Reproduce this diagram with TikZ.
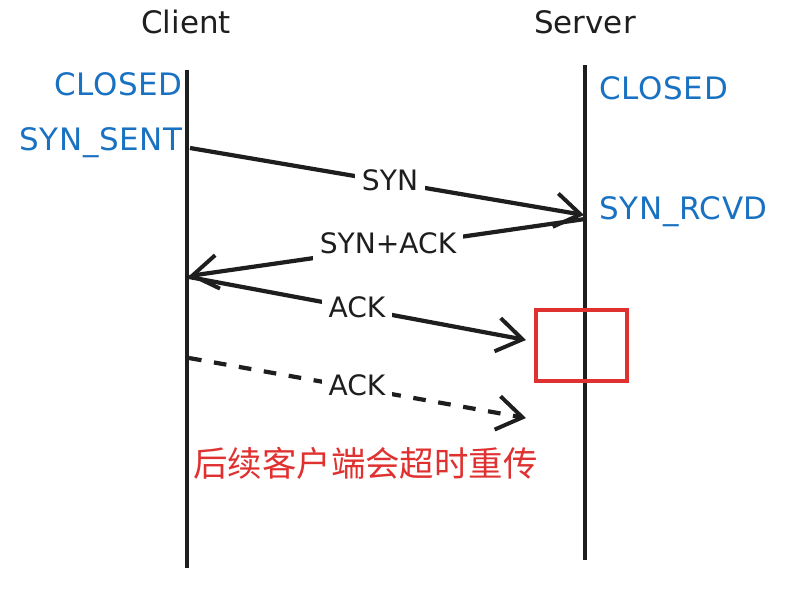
\documentclass[tikz,border=0pt]{standalone}
\usepackage{fontspec}
\setmainfont{DejaVu Sans}
\newfontfamily\cjk{Noto Sans CJK SC}
\usetikzlibrary{arrows.meta}

\definecolor{inkblack}{HTML}{1E1E1E}
\definecolor{stateblue}{HTML}{1971C2}
\definecolor{notered}{HTML}{E03131}

\tikzset{
  lifeline/.style={inkblack, line width=3.2pt},
  msg/.style={inkblack, line width=3pt, -{Straight Barb[length=18pt,width=24pt,line width=2.8pt]}},
  lost/.style={msg, dash pattern=on 9pt off 9pt},
  state/.style={text=stateblue, font=\fontsize{22}{26}\selectfont\addfontfeatures{LetterSpace=2}, inner sep=1pt},
  party/.style={text=inkblack, font=\fontsize{22}{26}\selectfont},
  msglabel/.style={text=inkblack, fill=white, font=\fontsize{20}{24}\selectfont, inner sep=5pt}
}

\begin{document}
\begin{tikzpicture}[x=0.025cm, y=-0.025cm]
    \useasboundingbox (0,0) rectangle (796,598);

    % lifelines
    \node[party] (client) at (186,22) {Client};
    \node[party] (server) at (585,22) {Server};
    \coordinate (cTop) at (187,70);
    \coordinate (cBot) at (187,568);
    \coordinate (sTop) at (585,65);
    \coordinate (sBot) at (585,560);
    \draw[lifeline] (cTop) -- (cBot);
    \draw[lifeline] (sTop) -- (sBot);

    % states
    \node[state, anchor=east] (cClosed) at (184,84) {CLOSED};
    \node[state, anchor=east] (cSent) at (184,143) {SYN\_SENT};
    \node[state, anchor=west] (sClosed) at (598,88) {CLOSED};
    \node[state, anchor=west] (sRcvd) at (598,212) {SYN\_RCVD};

    % message end points
    \coordinate (synA) at (190,148);
    \coordinate (synB) at (584,215);
    \coordinate (saA) at (585,219);
    \coordinate (saB) at (189,276);
    \coordinate (ackA) at (189,277);
    \coordinate (ackB) at (526,340);
    \coordinate (lostA) at (189,358);
    \coordinate (lostB) at (526,418);

    % handshake
    \draw[msg] (synA) -- (synB);
    \draw[msg] (saA) -- (saB);
    \draw[msg] (ackA) -- (ackB);
    \draw[lost] (lostA) -- (lostB);

    \node[msglabel] (synLbl) at (390,180) {SYN};
    \node[msglabel] (saLbl) at (388,243) {SYN+ACK};
    \node[msglabel] (ackLbl) at (357,307) {ACK};
    \node[msglabel] (lostLbl) at (357,385) {ACK};

    % lost packet box and note
    \draw[notered, line width=2.4pt] (536,310) rectangle (627,381);
    \node[text=notered, font=\cjk\fontsize{24.5}{28}\selectfont, anchor=west, inner sep=0pt] (note) at (193,463) {后续客户端会超时重传};
\end{tikzpicture}
\end{document}
